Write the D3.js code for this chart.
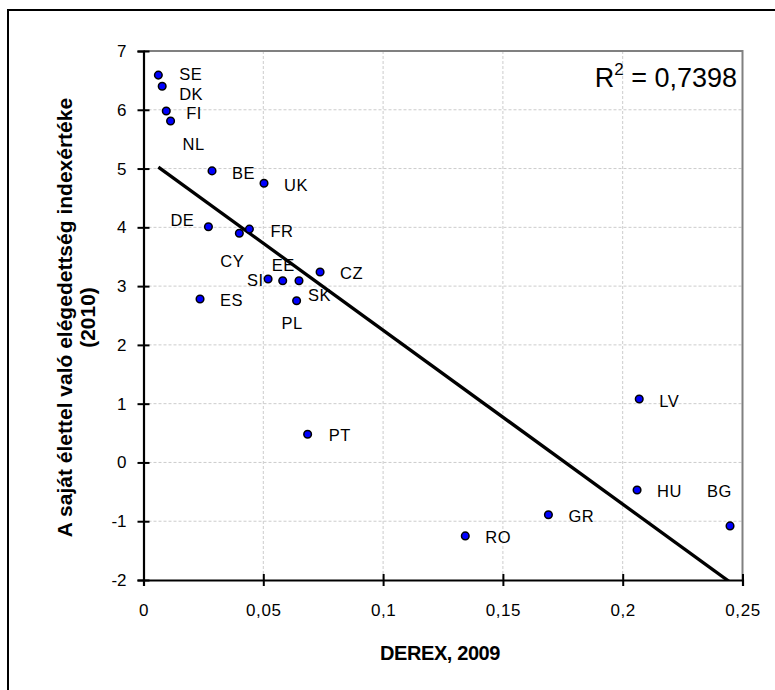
<!DOCTYPE html>
<html><head><meta charset="utf-8">
<script src="https://cdn.jsdelivr.net/npm/d3@7"></script>
<style>
body{margin:0;background:#fff}
text{font-family:Arial,"Liberation Sans",sans-serif;fill:#000}
</style>
</head><body>
<svg id="chart" width="775" height="690"></svg>
<script>
// ---- data ----
const countries = ["SE","DK","FI","NL","BE","UK","DE","CY","FR","CZ","SI","EE","SK","ES","PL","PT","LV","HU","BG","GR","RO"];
const derex = [0.0062,0.0078,0.0095,0.0113,0.0286,0.0503,0.0271,0.0400,0.0442,0.0737,0.0520,0.0581,0.0649,0.0236,0.0639,0.0685,0.2069,0.2060,0.2448,0.1690,0.1343];
const satisfaction = [6.59,6.40,5.98,5.81,4.96,4.75,4.01,3.90,3.97,3.24,3.12,3.09,3.09,2.78,2.75,0.48,1.08,-0.47,-1.08,-0.89,-1.25];
const xTicks = [0,0.05,0.1,0.15,0.2,0.25];
const yTicks = [-2,-1,0,1,2,3,4,5,6,7];
const xTitle = "DEREX, 2009";
const yTitleLines = ["A saját élettel való elégedettség indexértéke","(2010)"];
const rSquaredText = "0,7398";

// ---- layout (label nudges, px from point to label start / vertical centre) ----
const labelNudge = {
  SE:[21,-1], DK:[17,7.5], FI:[20,2], NL:[12,23], BE:[20,2], UK:[20,2],
  DE:[-38,-7], CY:[-19,28], FR:[21,2], CZ:[20,1], SI:[-21,1], EE:[-11,-16],
  SK:[9,14], ES:[20,1], PL:[-15,22], PT:[21,1], LV:[20,2], HU:[20,1],
  BG:[-23,-35], GR:[20,1], RO:[20,1]
};

const points = countries.map((c,i)=>({c, x:derex[i], y:satisfaction[i]}));

const svg = d3.select("#chart");
const L=143.5, R=742.5, T=51, B=580;
const x = d3.scaleLinear().domain([0,0.25]).range([L,R]);
const y = d3.scaleLinear().domain([-2,7]).range([B,T]);

// outer frame
svg.append("rect").attr("x",8).attr("y",10).attr("width",800).attr("height",700)
  .attr("fill","none").attr("stroke","#000").attr("stroke-width",2);

// gridlines
const grid = svg.append("g");
grid.selectAll("line.h").data(yTicks.filter(d=>d>-2 && d<7)).join("line")
  .attr("x1",L).attr("x2",R).attr("y1",d=>y(d)).attr("y2",d=>y(d))
  .attr("stroke","#cccccc").attr("stroke-width",1).attr("stroke-dasharray","3,2");
grid.selectAll("line.v").data(xTicks.filter(d=>d>0 && d<0.25)).join("line")
  .attr("y1",T).attr("y2",B).attr("x1",d=>x(d)).attr("x2",d=>x(d))
  .attr("stroke","#cccccc").attr("stroke-width",1).attr("stroke-dasharray","3,2");

// plot border top/right (gray)
svg.append("path").attr("d",`M${L},${T}H${R}V${B}`).attr("fill","none")
  .attr("stroke","#808080").attr("stroke-width",2);

// trendline (least squares)
const mx=d3.mean(derex), my=d3.mean(satisfaction);
const sxy=d3.sum(points,p=>(p.x-mx)*(p.y-my)), sxx=d3.sum(points,p=>(p.x-mx)**2);
const slope=sxy/sxx, icpt=my-slope*mx;
const [xmin,xmax]=d3.extent(derex);
svg.append("clipPath").attr("id","clip").append("rect")
  .attr("x",L).attr("y",T).attr("width",R-L).attr("height",B-T);
svg.append("line").attr("clip-path","url(#clip)")
  .attr("x1",x(xmin)).attr("y1",y(icpt+slope*xmin))
  .attr("x2",x(xmax)).attr("y2",y(icpt+slope*xmax))
  .attr("stroke","#000").attr("stroke-width",3.3);

// axes
const fmt = d => String(d).replace(".",",");
const yAxis = svg.append("g").attr("transform",`translate(${L},0)`)
  .call(d3.axisLeft(y).tickValues(yTicks).tickSize(6).tickPadding(11).tickFormat(d=>String(d)));
const xAxis = svg.append("g").attr("transform",`translate(0,${B})`)
  .call(d3.axisBottom(x).tickValues(xTicks).tickSize(6).tickPadding(18).tickFormat(fmt));
[yAxis,xAxis].forEach(a=>{
  a.select(".domain").attr("stroke","#000").attr("stroke-width",2.2);
  a.selectAll(".tick line").attr("stroke","#000").attr("stroke-width",2);
  a.selectAll(".tick text").attr("font-size",17).attr("font-family","Arial, 'Liberation Sans', sans-serif").attr("fill","#000");
});
yAxis.selectAll(".tick line").attr("x1",6);
xAxis.selectAll(".tick line").attr("y1",-6);
xAxis.selectAll(".tick text").attr("letter-spacing",0.6);

// points
svg.append("g").selectAll("circle").data(points).join("circle")
  .attr("cx",d=>x(d.x)).attr("cy",d=>y(d.y)).attr("r",3.8)
  .attr("fill","#0000ff").attr("stroke","#000").attr("stroke-width",1.5);

// labels
svg.append("g").selectAll("text").data(points).join("text")
  .attr("x",d=>x(d.x)+labelNudge[d.c][0])
  .attr("y",d=>y(d.y)+labelNudge[d.c][1])
  .attr("dy","0.36em").attr("font-size",16.5).attr("letter-spacing",0.5).text(d=>d.c);

// R^2
const rt = svg.append("text").attr("x",737).attr("y",87).attr("text-anchor","end").attr("font-size",27);
rt.append("tspan").text("R");
rt.append("tspan").attr("font-size",17).attr("dy",-12).text("2");
rt.append("tspan").attr("dy",12).text(" = "+rSquaredText);

// axis titles
svg.append("text").attr("x",(L+R)/2 - 3).attr("y",660).attr("text-anchor","middle")
  .attr("font-size",20).attr("font-weight","bold").attr("letter-spacing",-0.4).text(xTitle);
const yt = svg.append("text").attr("transform",`translate(0,${(T+B)/2 + 2}) rotate(-90)`)
  .attr("text-anchor","middle").attr("font-size",21).attr("font-weight","bold");
yt.append("tspan").attr("x",0).attr("y",72).text(yTitleLines[0]);
yt.append("tspan").attr("x",0).attr("y",95).text(yTitleLines[1]);
</script>
</body></html>
